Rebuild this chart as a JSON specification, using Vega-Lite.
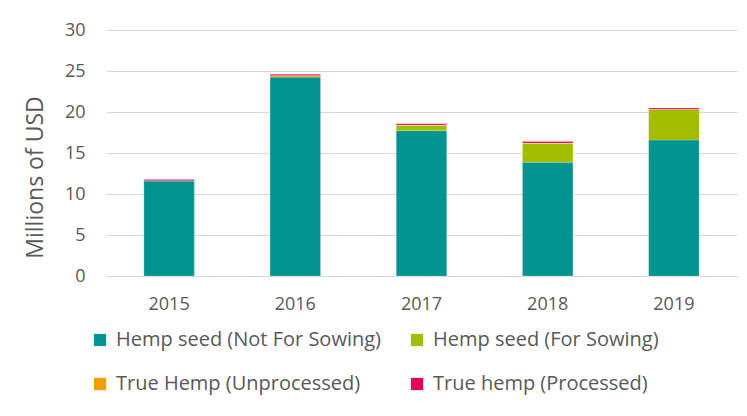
{
  "$schema": "https://vega.github.io/schema/vega-lite/v6.json",
  "width": 631,
  "height": 246,
  "autosize": "none",
  "padding": {"left": 106, "top": 30, "right": 10, "bottom": 140},
  "background": "white",
  "data": {
    "values": [
      {"year": "2015", "series": "Hemp seed (Not For Sowing)", "k": 1, "value": 11.6},
      {"year": "2015", "series": "Hemp seed (For Sowing)", "k": 2, "value": 0.0},
      {"year": "2015", "series": "True Hemp (Unprocessed)", "k": 3, "value": 0.03},
      {"year": "2015", "series": "True hemp (Processed)", "k": 4, "value": 0.15},
      {"year": "2016", "series": "Hemp seed (Not For Sowing)", "k": 1, "value": 24.27},
      {"year": "2016", "series": "Hemp seed (For Sowing)", "k": 2, "value": 0.0},
      {"year": "2016", "series": "True Hemp (Unprocessed)", "k": 3, "value": 0.17},
      {"year": "2016", "series": "True hemp (Processed)", "k": 4, "value": 0.16},
      {"year": "2017", "series": "Hemp seed (Not For Sowing)", "k": 1, "value": 17.72},
      {"year": "2017", "series": "Hemp seed (For Sowing)", "k": 2, "value": 0.66},
      {"year": "2017", "series": "True Hemp (Unprocessed)", "k": 3, "value": 0.03},
      {"year": "2017", "series": "True hemp (Processed)", "k": 4, "value": 0.15},
      {"year": "2018", "series": "Hemp seed (Not For Sowing)", "k": 1, "value": 13.87},
      {"year": "2018", "series": "Hemp seed (For Sowing)", "k": 2, "value": 2.31},
      {"year": "2018", "series": "True Hemp (Unprocessed)", "k": 3, "value": 0.03},
      {"year": "2018", "series": "True hemp (Processed)", "k": 4, "value": 0.18},
      {"year": "2019", "series": "Hemp seed (Not For Sowing)", "k": 1, "value": 16.59},
      {"year": "2019", "series": "Hemp seed (For Sowing)", "k": 2, "value": 3.74},
      {"year": "2019", "series": "True Hemp (Unprocessed)", "k": 3, "value": 0.02},
      {"year": "2019", "series": "True hemp (Processed)", "k": 4, "value": 0.15}
    ]
  },
  "mark": {"type": "bar", "stroke": "white", "strokeWidth": 0.4, "strokeOpacity": 0.5},
  "encoding": {
    "x": {
      "field": "year", "type": "ordinal",
      "scale": {"paddingInner": 0.6, "paddingOuter": 0.3},
      "axis": {"title": null, "labelAngle": 0, "ticks": false, "domainColor": "#d9d9d9", "domainWidth": 1,
               "labelFont": "Open Sans", "labelFontSize": 18, "labelColor": "#595959", "labelPadding": 19}
    },
    "y": {
      "field": "value", "type": "quantitative", "stack": "zero",
      "scale": {"domain": [0, 30], "nice": false},
      "axis": {"title": "Millions of USD", "values": [0, 5, 10, 15, 20, 25, 30], "domain": false, "ticks": false,
               "gridColor": "#d9d9d9", "gridWidth": 1, "labelFont": "Open Sans", "labelFontSize": 18, "labelColor": "#595959",
               "labelPadding": 21, "titleFont": "Open Sans", "titleFontSize": 23, "titleFontWeight": "normal", "titleColor": "#595959",
               "titleX": -71, "titleY": 147, "titleAlign": "center", "titleBaseline": "middle"}
    },
    "color": {
      "field": "series", "type": "nominal",
      "scale": {
        "domain": ["Hemp seed (Not For Sowing)", "Hemp seed (For Sowing)", "True Hemp (Unprocessed)", "True hemp (Processed)"],
        "range": ["#00948f", "#a2be00", "#f59c00", "#e4005a"]
      },
      "legend": {
        "title": null, "orient": "none", "legendX": -16, "legendY": 300, "columns": 2, "direction": "horizontal",
        "symbolType": "square", "symbolSize": 150, "symbolStrokeWidth": 0, "symbolOffset": 0,
        "labelFont": "Open Sans", "labelFontSize": 20, "labelColor": "#595959", "labelOffset": 6, "labelLimit": 400,
        "columnPadding": 26, "rowPadding": 24
      }
    },
    "order": {"field": "k", "type": "quantitative"}
  },
  "config": {"view": {"stroke": null}}
}
